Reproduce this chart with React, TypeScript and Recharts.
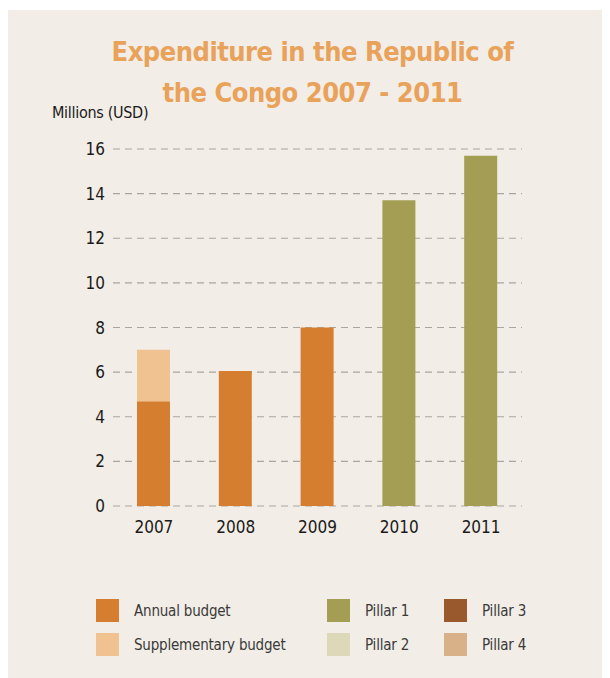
import { Bar, BarChart, CartesianGrid, XAxis, YAxis } from 'recharts'

const years = ['2007', '2008', '2009', '2010', '2011']
const annualBudget = [4.7, 6.05, 8.0, 0, 0]
const supplementaryBudget = [2.3, 0, 0, 0, 0]
const pillar1 = [0, 0, 0, 13.7, 15.7]
const yTicks = [0, 2, 4, 6, 8, 10, 12, 14, 16]

const legendItems = [
  { name: 'Annual budget', color: '#D57E2F', col: 0, row: 0 },
  { name: 'Supplementary budget', color: '#F0C292', col: 0, row: 1 },
  { name: 'Pillar 1', color: '#A39E53', col: 1, row: 0 },
  { name: 'Pillar 2', color: '#DCD8B8', col: 1, row: 1 },
  { name: 'Pillar 3', color: '#99592D', col: 2, row: 0 },
  { name: 'Pillar 4', color: '#D9B189', col: 2, row: 1 },
]

const data = years.map((year, i) => ({
  year,
  annual: annualBudget[i],
  supplementary: supplementaryBudget[i],
  pillar1: pillar1[i],
}))

const FONT = '"DejaVu Sans Condensed", "Liberation Sans Narrow", sans-serif'
const colX = [88, 319, 436]

export default function App() {
  return (
    <div
      style={{
        position: 'relative',
        width: 597,
        height: 668,
        marginTop: 2,
        background: '#F2EDE6',
        fontFamily: FONT,
      }}
    >
      <div
        style={{
          position: 'absolute',
          left: 0,
          width: 597,
          top: 21,
          textAlign: 'center',
          color: '#E8A25A',
          fontWeight: 700,
          fontSize: 27,
          letterSpacing: -0.5,
          lineHeight: '41px',
          paddingLeft: 6,
        }}
      >
        Expenditure in the Republic of
        <br />
        the Congo 2007 - 2011
      </div>
      <div
        style={{
          position: 'absolute',
          left: 44,
          top: 93,
          fontSize: 16,
          letterSpacing: -0.3,
          color: '#1a1a1a',
        }}
      >
        Millions (USD)
      </div>
      <BarChart
        width={597}
        height={668}
        data={data}
        margin={{ top: 139, right: 83, bottom: 142, left: 65 }}
        barSize={33}
      >
        <CartesianGrid
          vertical={false}
          stroke="#A9A6A2"
          strokeDasharray="7 5"
          strokeWidth={1.2}
        />
        <XAxis
          dataKey="year"
          axisLine={false}
          tickLine={false}
          tickSize={0}
          tickMargin={15}
          height={30}
          tick={{ fill: '#1a1a1a', fontSize: 17, fontFamily: FONT }}
        />
        <YAxis
          domain={[0, 16]}
          ticks={yTicks}
          axisLine={false}
          tickLine={false}
          tickSize={0}
          tickMargin={8}
          width={40}
          tick={{ fill: '#1a1a1a', fontSize: 17, fontFamily: FONT }}
        />
        <Bar dataKey="annual" stackId="a" fill="#D57E2F" isAnimationActive={false} />
        <Bar dataKey="supplementary" stackId="a" fill="#F0C292" isAnimationActive={false} />
        <Bar dataKey="pillar1" stackId="a" fill="#A39E53" isAnimationActive={false} />
      </BarChart>
      {legendItems.map((item) => (
        <div
          key={item.name}
          style={{
            position: 'absolute',
            left: colX[item.col],
            top: 589 + item.row * 34,
            display: 'flex',
            alignItems: 'center',
            fontSize: 15,
            letterSpacing: -0.2,
            color: '#3a3a3a',
          }}
        >
          <span
            style={{
              display: 'inline-block',
              width: 23,
              height: 23,
              background: item.color,
              marginRight: 15,
            }}
          />
          {item.name}
        </div>
      ))}
    </div>
  )
}
